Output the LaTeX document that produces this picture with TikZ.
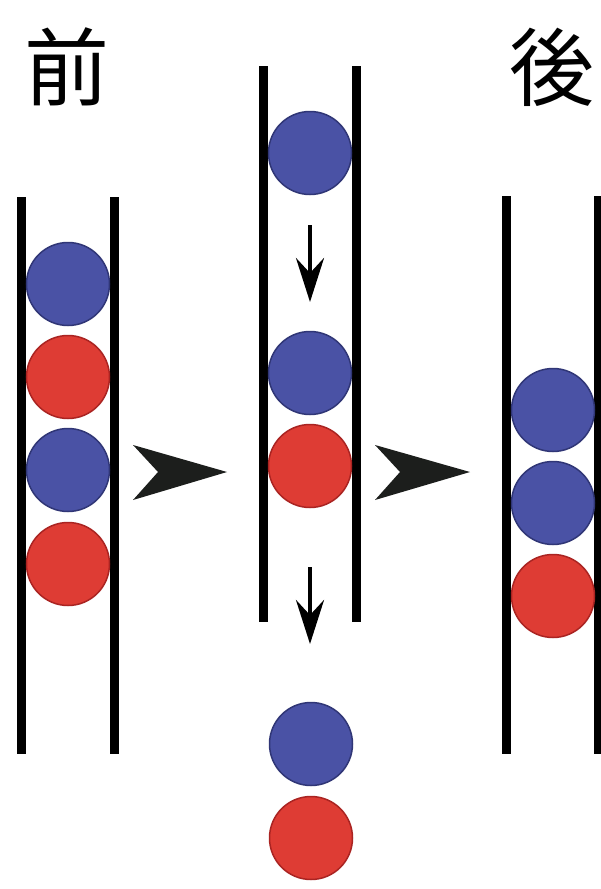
\documentclass[tikz,border=0pt]{standalone}
\usepackage{fontspec}
\newfontfamily\cjk{Noto Sans CJK JP}
\usetikzlibrary{arrows.meta}
\definecolor{ballblue}{RGB}{74,82,165}
\definecolor{ballblueline}{RGB}{48,54,118}
\definecolor{ballred}{RGB}{222,60,52}
\definecolor{ballredline}{RGB}{170,36,34}
\definecolor{chev}{RGB}{28,30,28}
\tikzset{
  tubewall/.style={line width=9pt, black},
  blueball/.style={circle, minimum size=83pt, inner sep=0pt, fill=ballblue, draw=ballblueline, line width=1.5pt},
  redball/.style={circle, minimum size=83pt, inner sep=0pt, fill=ballred, draw=ballredline, line width=1.5pt},
  droparrow/.style={line width=4pt, black, -{Stealth[length=44pt,width=28pt,inset=15pt]}},
  chevron/.style={fill=chev, draw=none},
  label/.style={inner sep=0pt, font=\cjk\fontsize{85}{85}\selectfont}
}
\begin{document}
\begin{tikzpicture}[x=1pt,y=-1pt]
\useasboundingbox (0,0) rectangle (600,889);
\fill[white] (0,0) rectangle (600,889);
% labels
\node[label] (before) at (67,67) {前};
\node[label] (after) at (552,67) {後};
% left tube
\draw[tubewall] (21,197) -- (21,754);
\draw[tubewall] (114,197) -- (114,754);
\node[blueball] (l1) at (68,284) {};
\node[redball] (l2) at (68,377) {};
\node[blueball] (l3) at (68,470) {};
\node[redball] (l4) at (68,564) {};
% middle tube
\draw[tubewall] (263,66) -- (263,622);
\draw[tubewall] (356,66) -- (356,622);
\node[blueball] (m1) at (310,153) {};
\node[blueball] (m2) at (310,373) {};
\node[redball] (m3) at (310,466) {};
\coordinate (a1s) at (310,225);
\coordinate (a1e) at (310,302);
\draw[droparrow] (a1s) -- (a1e);
\coordinate (a2s) at (310,567);
\coordinate (a2e) at (310,644);
\draw[droparrow] (a2s) -- (a2e);
\node[blueball] (b1) at (311,744) {};
\node[redball] (b2) at (311,838) {};
% right tube
\draw[tubewall] (506,196) -- (506,754);
\draw[tubewall] (598,196) -- (598,754);
\node[blueball] (r1) at (553,410) {};
\node[blueball] (r2) at (553,503) {};
\node[redball] (r3) at (553,596) {};
% chevrons
\fill[chevron] (133,445) -- (227,472) -- (133,500) -- (158,472) -- cycle;
\fill[chevron] (375,445) -- (470,472) -- (375,500) -- (400,472) -- cycle;
\end{tikzpicture}
\end{document}
